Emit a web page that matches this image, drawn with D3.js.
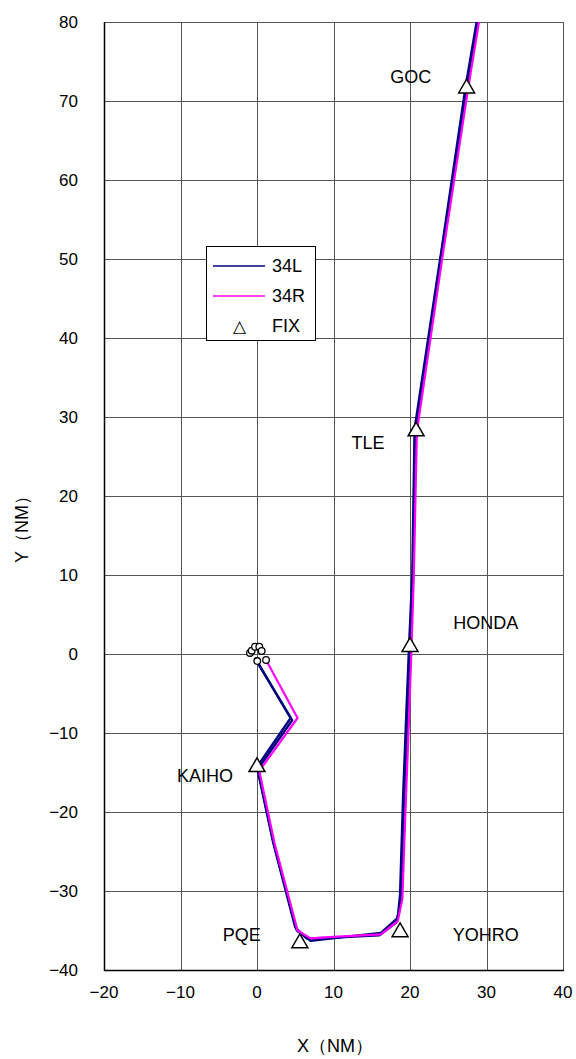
<!DOCTYPE html>
<html><head><meta charset="utf-8">
<script src="https://cdn.jsdelivr.net/npm/d3@7"></script>
<style>body{margin:0;background:#fff}svg{display:block}text{font-family:"Liberation Sans",Arial,sans-serif;fill:#000}</style>
</head><body><svg id="c" width="576" height="1059"></svg>
<script>
const xTicks=[-20,-10,0,10,20,30,40];
const yTicks=[-40,-30,-20,-10,0,10,20,30,40,50,60,70,80];
const track34L_a=[[0.0,-0.9],[4.4,-8.1],[0.0,-14.3],[2.1,-23.8],[5.0,-34.6],[6.5,-36.0],[10,-35.9],[16.0,-35.6],[18.2,-34.0],[18.8,-31.5],[19.2,-20.1],[19.6,-10.5],[20.0,0.9],[20.4,9.4],[20.7,28.2],[24.0,50],[27.4,71.6],[29.0,80.5]];
const track34L_b=[[-0.3,-0.5],[4.6,-8.4],[0.1,-14.6],[2.2,-24.0],[5.2,-35.0],[7.0,-36.3],[16.2,-35.3],[18.4,-33.4],[18.7,-30.5],[19.1,-18.0],[19.5,-8.0],[19.9,1.5],[20.3,10],[20.6,28.5],[24.1,51],[27.3,72],[28.8,80.5]];
const track34R=[[1.2,-0.8],[5.3,-8.1],[0.3,-14.8],[2.3,-24.0],[5.3,-35.0],[7.0,-36.0],[10,-35.8],[16.2,-35.5],[18.4,-33.8],[19.0,-31.0],[19.4,-20.0],[19.8,-10.0],[20.2,0.9],[20.5,10.0],[20.9,28.2],[24.2,50],[27.6,71.6],[29.1,80.5]];
const startPts=[[-0.92,0.13],[-0.69,0.42],[-0.26,0.92],[0.30,0.92],[0.61,0.38],[0.04,-0.89],[1.18,-0.76]];
const fixNames=["GOC","TLE","HONDA","KAIHO","PQE","YOHRO"];
const fixX=[27.4,20.8,20.0,0.0,5.6,18.7];
const fixY=[71.6,28.2,0.9,-14.3,-36.6,-35.2];
const labelX=[20.1,14.5,29.9,-6.8,-2.0,29.9];
const labelY=[72.3,25.9,3.2,-16.2,-36.3,-36.3];

const svg=d3.select("#c");
const L=104,R=563,T=22,B=970;
const x=d3.scaleLinear().domain([-20,40]).range([L,R]);
const y=d3.scaleLinear().domain([-40,80]).range([B,T]);
svg.append("defs").append("clipPath").attr("id","clip").append("rect").attr("x",L).attr("y",T).attr("width",R-L).attr("height",B-T);
const g=svg.append("g");
g.selectAll(".gx").data(xTicks).join("line").attr("x1",d=>Math.round(x(d))+0.5).attr("x2",d=>Math.round(x(d))+0.5).attr("y1",T).attr("y2",B).attr("stroke","#555").attr("stroke-width",1);
g.selectAll(".gy").data(yTicks).join("line").attr("y1",d=>Math.round(y(d))+0.5).attr("y2",d=>Math.round(y(d))+0.5).attr("x1",L).attr("x2",R).attr("stroke","#555").attr("stroke-width",1);
g.append("line").attr("x1",L+0.5).attr("x2",L+0.5).attr("y1",T).attr("y2",B+1).attr("stroke","#000").attr("stroke-width",1.5);
g.append("line").attr("x1",L).attr("x2",R+1).attr("y1",B+0.5).attr("y2",B+0.5).attr("stroke","#000").attr("stroke-width",1.5);
svg.selectAll(".tx").data(xTicks).join("text").attr("x",d=>x(d)).attr("y",B+28).attr("text-anchor","middle").attr("font-size",17).text(d=>d<0?"\u2212"+Math.abs(d):d);
svg.selectAll(".ty").data(yTicks).join("text").attr("x",L-26).attr("y",d=>y(d)+6).attr("text-anchor","end").attr("font-size",17).text(d=>d<0?"\u2212"+Math.abs(d):d);
svg.append("text").attr("x",335).attr("y",1052).attr("text-anchor","middle").attr("font-size",18).text("X（NM）");
svg.append("text").attr("transform","translate(28,525) rotate(-90)").attr("text-anchor","middle").attr("font-size",18).text("Y（NM）");

const line=d3.line().x(d=>x(d[0])).y(d=>y(d[1]));
const pg=svg.append("g").attr("clip-path","url(#clip)");
[track34L_a,track34L_b].forEach(t=>pg.append("path").attr("d",line(t)).attr("fill","none").attr("stroke","#000080").attr("stroke-width",2.4).attr("stroke-linejoin","round"));
pg.append("path").attr("d",line(track34R)).attr("fill","none").attr("stroke","#ff00ff").attr("stroke-width",2.2).attr("stroke-linejoin","round");
pg.selectAll(".sp").data(startPts).join("circle").attr("cx",d=>x(d[0])).attr("cy",d=>y(d[1])).attr("r",3.3).attr("fill","#fff").attr("stroke","#000").attr("stroke-width",1.3);
const tri=d3.symbol().type(d3.symbolTriangle).size(110);
svg.selectAll(".fx").data(fixX).join("path").attr("d",tri).attr("transform",(d,i)=>`translate(${x(d)},${y(fixY[i])})`).attr("fill","#fff").attr("stroke","#000").attr("stroke-width",1.5);
svg.selectAll(".fl").data(fixNames).join("text").attr("x",(d,i)=>x(labelX[i])).attr("y",(d,i)=>y(labelY[i])).attr("text-anchor","middle").attr("font-size",18).text(d=>d);
const lg=svg.append("g");
lg.append("rect").attr("x",206.5).attr("y",246.5).attr("width",109).attr("height",94).attr("fill","#fff").attr("stroke","#000").attr("stroke-width",1);
const legNames=["34L","34R","FIX"],legCol=["#000080","#ff00ff",null];
legNames.forEach((n,i)=>{
 const yy=266+i*30;
 if(legCol[i]) lg.append("line").attr("x1",213).attr("x2",265).attr("y1",yy).attr("y2",yy).attr("stroke",legCol[i]).attr("stroke-width",1.5);
 else lg.append("text").attr("x",239).attr("y",yy+6).attr("text-anchor","middle").attr("font-size",17).text("\u25b3");
 lg.append("text").attr("x",272).attr("y",yy+6).attr("font-size",18).text(n);
});
</script></body></html>
